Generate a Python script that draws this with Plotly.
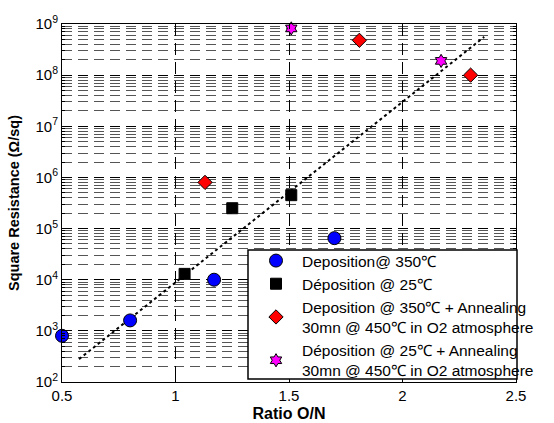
import plotly.graph_objects as go

# ---- data ----
dep350_x = [0.50, 0.80, 1.17, 1.70]
dep350_y = [800, 1600, 1.0e4, 6.5e4]

dep25_x = [1.04, 1.25, 1.51]
dep25_y = [1.3e4, 2.5e5, 4.5e5]

dep350_ann_x = [1.13, 1.81, 2.30]
dep350_ann_y = [8.0e5, 4.8e8, 1.0e8]

dep25_ann_x = [1.51, 2.17]
dep25_ann_y = [8.2e8, 1.9e8]

fit_x = [0.575, 2.36]
fit_y = [280, 5.6e8]

y_decades = [2, 3, 4, 5, 6, 7, 8, 9]
y_ticktext = ["10<sup>%d</sup>" % d for d in y_decades]
x_ticks = [0.5, 1, 1.5, 2, 2.5]
x_ticktext = ["0.5", "1", "1.5", "2", "2.5"]

names = [
    "Deposition@ 350\u2103",
    "D\u00e9position @ 25\u2103",
    "Deposition @ 350\u2103 + Annealing<br>30mn @ 450\u2103 in O2 atmosphere",
    "D\u00e9position @ 25\u2103 + Annealing<br>30mn @ 450\u2103 in O2 atmosphere",
]

FONT = "Liberation Sans, Arial, sans-serif"

fig = go.Figure()
fig.add_trace(go.Scatter(x=fit_x, y=fit_y, mode="lines", showlegend=False,
                         line=dict(color="black", width=2, dash="dot")))
fig.add_trace(go.Scatter(x=dep350_x, y=dep350_y, mode="markers", name=names[0],
                         marker=dict(symbol="circle", size=13, color="#0000ff",
                                     line=dict(color="black", width=1)), cliponaxis=False))
fig.add_trace(go.Scatter(x=dep25_x, y=dep25_y, mode="markers", name=names[1],
                         marker=dict(symbol="square", size=11, color="black",
                                     line=dict(color="black", width=1)), cliponaxis=False))
fig.add_trace(go.Scatter(x=dep350_ann_x, y=dep350_ann_y, mode="markers", name=names[2],
                         marker=dict(symbol="diamond", size=11, color="#ff0000",
                                     line=dict(color="black", width=1)), cliponaxis=False))
fig.add_trace(go.Scatter(x=dep25_ann_x, y=dep25_ann_y, mode="markers", name=names[3],
                         marker=dict(symbol="hexagram", size=10, color="#ff00ff",
                                     line=dict(color="black", width=1)), cliponaxis=False))

minor_vals = [m * 10 ** d for d in y_decades[:-1] for m in range(2, 10)]

fig.update_layout(
    width=554, height=423,
    margin=dict(l=62, r=38, t=24, b=41, autoexpand=False),
    paper_bgcolor="white", plot_bgcolor="white",
    font=dict(family=FONT, size=15, color="black"),
    xaxis=dict(
        range=[0.5, 2.5], tickvals=x_ticks, ticktext=x_ticktext,
        showline=True, linecolor="black", linewidth=1, mirror="ticks",
        ticks="inside", ticklen=5, tickcolor="black",
        showgrid=True, gridcolor="black", gridwidth=1, griddash="12px,7px",
        zeroline=False, automargin=False,
        title=dict(text="<b>Ratio O/N</b>", font=dict(size=16), standoff=4),
    ),
    yaxis=dict(
        type="log", range=[2, 9],
        tickvals=[10 ** d for d in y_decades], ticktext=y_ticktext,
        showline=True, linecolor="black", linewidth=1, mirror="ticks",
        ticks="inside", ticklen=5, tickcolor="black",
        showgrid=True, gridcolor="black", gridwidth=1, griddash="10px,6px",
        zeroline=False, automargin=False,
        minor=dict(tickvals=minor_vals, ticks="inside", ticklen=3, tickcolor="black",
                   showgrid=True, gridcolor="#555555", gridwidth=1, griddash="10px,6px"),
        title=dict(text="<b>Square Resistance (\u03a9/sq)</b>", font=dict(size=14.5), standoff=12),
    ),
    legend=dict(
        x=(250 - 62) / 454, y=(382 - 244) / 358, xanchor="left", yanchor="top",
        bgcolor="rgba(0,0,0,0)", borderwidth=0, itemwidth=42,
        font=dict(size=15.5, family=FONT), tracegroupgap=0,
    ),
    shapes=[dict(type="rect", xref="paper", yref="paper",
                 x0=(248 - 62) / 454, x1=(517 - 62) / 454,
                 y0=(382 - 379) / 358, y1=(382 - 250) / 358,
                 fillcolor="white",
                 line=dict(color="black", width=1.5), layer="above")],
)

fig.write_html("out.html", post_script="document.body.style.margin='0px';",
               config={"displayModeBar": False})
